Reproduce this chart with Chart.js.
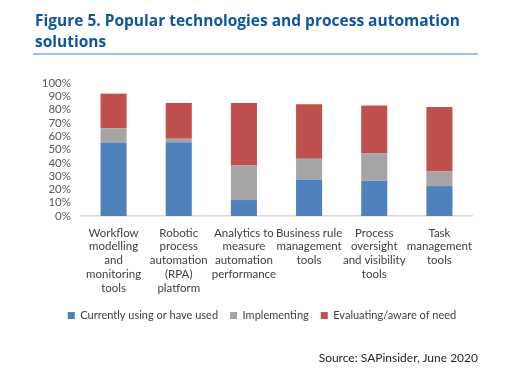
<!DOCTYPE html>
<html>
<head>
<meta charset="utf-8">
<script src="https://cdn.jsdelivr.net/npm/chart.js@4.4.0/dist/chart.umd.min.js"></script>
<style>
  html, body { margin: 0; padding: 0; background: #fff; }
  #wrap { position: relative; width: 522px; height: 391px; overflow: hidden; }
  #title { position: absolute; left: 35px; top: 10px; width: 450px; font-family: "Open Sans", sans-serif; font-weight: 700; font-size: 15.5px; line-height: 21px; color: #0f55a0; }
  #rule { position: absolute; left: 33px; top: 53px; width: 445px; height: 2px; background: #9dc3e6; }
  #source { position: absolute; right: 44px; top: 350px; font-family: "Lato", sans-serif; font-size: 12px; color: #262626; }
  #chartBox { position: absolute; left: 0; top: 0; width: 522px; height: 391px; }
</style>
</head>
<body>
<div id="wrap">
  <div id="chartBox"><canvas id="c" width="522" height="391"></canvas></div>
  <div id="title">Figure 5. Popular technologies and process automation solutions</div>
  <div id="rule"></div>
  <div id="source">Source: SAPinsider, June 2020</div>
</div>
<script>
const categories = [
  ["Workflow", "modelling", "and", "monitoring", "tools"],
  ["Robotic", "process", "automation", "(RPA)", "platform"],
  ["Analytics to", "measure", "automation", "performance"],
  ["Business rule", "management", "tools"],
  ["Process", "oversight", "and visibility", "tools"],
  ["Task", "management", "tools"]
];
const currentlyUsing = [55, 55.5, 12, 27.5, 26.5, 22.5];
const implementing   = [11, 2.5, 26, 15.5, 20.5, 11];
const evaluating     = [26, 27, 47, 41, 36, 48.5];
const yTicks = [0, 10, 20, 30, 40, 50, 60, 70, 80, 90, 100];

const FONT = "Lato, 'Open Sans', sans-serif";

new Chart(document.getElementById('c'), {
  type: 'bar',
  data: {
    labels: categories,
    datasets: [
      { label: 'Currently using or have used', data: currentlyUsing, backgroundColor: '#4f81bd' },
      { label: 'Implementing', data: implementing, backgroundColor: '#a5a5a5' },
      { label: 'Evaluating/aware of need', data: evaluating, backgroundColor: '#c0504d' }
    ]
  },
  options: {
    responsive: false,
    animation: false,
    devicePixelRatio: 1,
    layout: { padding: { top: 83, right: 24, bottom: 60, left: 26 } },
    datasets: { bar: { categoryPercentage: 1.0, barPercentage: 0.4, borderWidth: 0 } },
    plugins: {
      tooltip: { enabled: false },
      legend: {
        position: 'bottom',
        labels: { font: { family: FONT, size: 11 }, color: '#404040', boxWidth: 7, boxHeight: 7, padding: 12 }
      }
    },
    scales: {
      x: {
        stacked: true,
        grid: { display: false, drawTicks: false },
        border: { display: true, color: '#d9d9d9', width: 1.5 },
        ticks: { font: { family: FONT, size: 11.5 }, color: '#404040', maxRotation: 0, autoSkip: false, padding: 10 },
        afterFit: (s) => { s.height = 82; }
      },
      y: {
        stacked: true,
        min: 0, max: 100,
        afterBuildTicks: (s) => { s.ticks = yTicks.map(v => ({ value: v })); },
        grid: { display: false, drawTicks: false },
        border: { display: false },
        ticks: { font: { family: FONT, size: 11.5 }, color: '#595959', padding: 10, autoSkip: false, stepSize: 10, callback: (v) => v + '%' },
        afterFit: (s) => { s.width = 55; }
      },
      yRight: {
        position: 'right',
        min: 0, max: 100,
        grid: { display: false, drawTicks: false },
        border: { display: false },
        ticks: { display: false },
        afterFit: (s) => { s.width = 26; }
      }
    }
  }
});
</script>
</body>
</html>
